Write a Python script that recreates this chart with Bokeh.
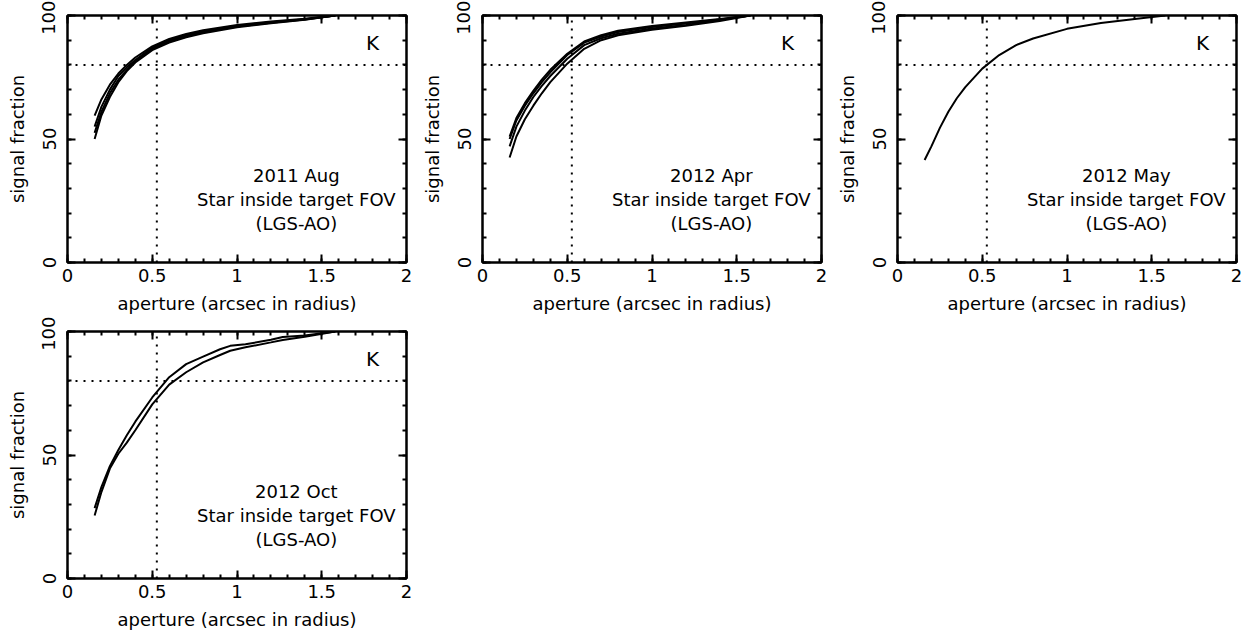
from bokeh.plotting import figure
from bokeh.models import (Range1d, LinearAxis, SingleIntervalTicker,
                          CustomJSTickFormatter)
from bokeh.layouts import column, row
from bokeh.embed import file_html
from bokeh.resources import INLINE
from bokeh.core.properties import value

FONT = "DejaVu Sans"

# ---------------- data ----------------
aperture = [0.16, 0.2, 0.25, 0.3, 0.35, 0.4, 0.5, 0.6, 0.7, 0.8, 1.0, 1.2, 1.4, 1.58]

aug2011_a = [59.5, 66.0, 72.0, 76.5, 80.0, 83.0, 87.5, 90.5, 92.5, 94.0, 96.2, 97.6, 98.7, 100.0]
aug2011_b = [55.0, 63.0, 70.0, 75.5, 79.0, 82.0, 87.0, 90.0, 92.0, 93.6, 95.8, 97.3, 98.5, 100.0]
aug2011_c = [52.5, 61.0, 68.5, 74.0, 78.0, 81.5, 86.5, 89.5, 91.6, 93.2, 95.5, 97.1, 98.4, 100.0]
aug2011_d = [50.0, 59.5, 67.0, 73.0, 77.5, 81.0, 86.0, 89.0, 91.2, 92.8, 95.2, 96.9, 98.3, 100.0]

apr2012_a = [51.0, 58.5, 64.5, 69.5, 74.0, 78.0, 84.5, 89.5, 92.0, 93.8, 95.8, 97.2, 98.6, 100.0]
apr2012_b = [50.0, 57.5, 63.5, 68.5, 73.0, 77.0, 84.0, 89.0, 91.5, 93.3, 95.3, 96.8, 98.4, 100.0]
apr2012_c = [47.0, 55.0, 61.5, 67.0, 71.5, 75.5, 82.5, 88.0, 90.8, 92.6, 94.7, 96.2, 98.2, 100.0]
apr2012_d = [42.5, 51.0, 58.0, 63.5, 68.5, 73.0, 80.5, 86.5, 90.0, 92.0, 94.2, 95.8, 97.8, 100.0]

may2012_a = [41.5, 47.0, 54.5, 61.0, 66.5, 71.0, 78.5, 84.0, 88.0, 90.7, 94.6, 97.0, 98.6, 100.0]

aperture_oct = [0.16, 0.2, 0.25, 0.3, 0.35, 0.4, 0.5, 0.6, 0.7, 0.8, 0.9, 0.96, 1.05, 1.2, 1.27, 1.4, 1.58]
oct2012_a = [28.5, 37.0, 45.5, 52.0, 58.0, 63.5, 73.3, 81.5, 86.8, 89.8, 92.8, 94.2, 94.8, 96.7, 97.8, 98.4, 100.0]
oct2012_b = [25.5, 35.0, 44.5, 50.5, 55.0, 60.0, 70.5, 78.5, 83.5, 87.5, 90.5, 92.2, 93.6, 95.6, 96.6, 97.9, 100.0]

epochs = ["2011 Aug", "2012 Apr", "2012 May", "2012 Oct"]
note_lines = ["Star inside target FOV", "(LGS-AO)"]
band = "K"
aperture_ref = 0.527
fraction_ref = 80

x_limits = (0, 2)
y_limits = (0, 100)

x_label = "aperture (arcsec in radius)"
y_label = "signal fraction"

panels = [
    (epochs[0], [(aperture, aug2011_a), (aperture, aug2011_b), (aperture, aug2011_c), (aperture, aug2011_d)]),
    (epochs[1], [(aperture, apr2012_a), (aperture, apr2012_b), (aperture, apr2012_c), (aperture, apr2012_d)]),
    (epochs[2], [(aperture, may2012_a)]),
    (epochs[3], [(aperture_oct, oct2012_a), (aperture_oct, oct2012_b)]),
]

FS = "18px"


def style_axis(ax, show_labels):
    ax.axis_line_width = 2
    ax.axis_line_color = "black"
    ax.major_tick_in = 8
    ax.major_tick_out = 0
    ax.minor_tick_in = 4
    ax.minor_tick_out = 0
    ax.major_tick_line_width = 2
    ax.minor_tick_line_width = 2
    ax.major_tick_line_color = "black"
    ax.minor_tick_line_color = "black"
    ax.major_label_text_font = FONT
    ax.major_label_text_font_size = FS
    ax.major_label_text_color = "black"
    ax.axis_label_text_font = FONT
    ax.axis_label_text_font_size = FS
    ax.axis_label_text_font_style = "normal"
    ax.axis_label_text_color = "black"
    if show_labels:
        ax.formatter = CustomJSTickFormatter(code="return tick.toString();")
    else:
        ax.formatter = CustomJSTickFormatter(code="return '';")
        ax.major_label_standoff = 0


def make_panel(epoch, curves):
    p = figure(width=415, height=316, output_backend="svg", toolbar_location=None,
               x_range=Range1d(*x_limits), y_range=Range1d(*y_limits),
               x_axis_type=None, y_axis_type=None,
               min_border_left=67, min_border_right=9,
               min_border_top=15, min_border_bottom=54)
    p.xgrid.visible = False
    p.ygrid.visible = False
    p.outline_line_color = "black"
    p.outline_line_width = 2
    p.background_fill_color = None
    p.border_fill_color = None

    xt = lambda: SingleIntervalTicker(interval=0.5, num_minor_ticks=5)
    yt = lambda: SingleIntervalTicker(interval=50, num_minor_ticks=5)

    bx = LinearAxis(ticker=xt(), axis_label=x_label)
    style_axis(bx, True)
    bx.major_label_standoff = 6
    bx.axis_label_standoff = 8
    p.add_layout(bx, "below")

    ly = LinearAxis(ticker=yt(), axis_label=y_label)
    style_axis(ly, True)
    ly.major_label_orientation = "vertical"
    ly.major_label_standoff = 12
    ly.axis_label_standoff = 12
    p.add_layout(ly, "left")

    tx = LinearAxis(ticker=xt())
    style_axis(tx, False)
    p.add_layout(tx, "above")

    ry = LinearAxis(ticker=yt())
    style_axis(ry, False)
    p.add_layout(ry, "right")

    # dotted reference lines, drawn as glyphs across the full axis limits
    p.segment(x0=[aperture_ref, x_limits[0]], y0=[y_limits[0], fraction_ref],
              x1=[aperture_ref, x_limits[1]], y1=[y_limits[1], fraction_ref],
              line_color="black", line_width=2, line_dash="2 6")

    for xs, ys in curves:
        p.line(xs, ys, line_color="black", line_width=2)

    # texts painted after the axes
    r1 = p.text(x=[1.8], y=[89], text=[band], text_font=value(FONT), text_font_size="20px",
                text_align="center", text_baseline="middle", text_color="black")
    r2 = p.text(x=[1.35, 1.35, 1.35], y=[35.2, 25.4, 15.6], text=[epoch] + note_lines,
                text_font=value(FONT), text_font_size=FS,
                text_align="center", text_baseline="middle", text_color="black")
    r1.level = "overlay"
    r2.level = "overlay"
    return p


figs = [make_panel(e, c) for e, c in panels]
layout = column(row(figs[0], figs[1], figs[2]), row(figs[3]))

open("out.html", "w").write(file_html(layout, INLINE))
